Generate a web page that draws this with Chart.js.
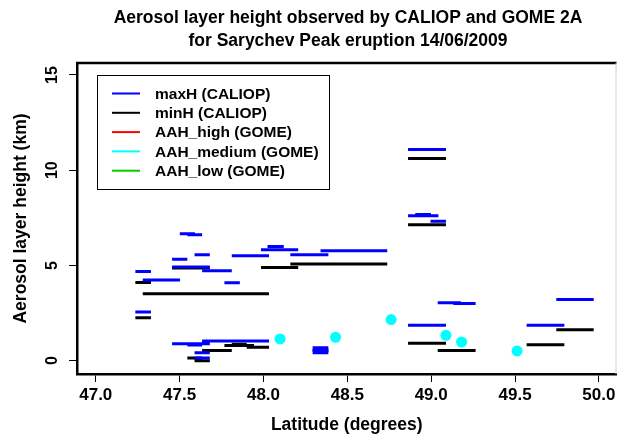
<!DOCTYPE html>
<html lang="en">
<head>
    <meta charset="UTF-8">
    <title>Aerosol layer height - Sarychev Peak</title>
    <script src="https://cdn.jsdelivr.net/npm/chart.js@4.4.1/dist/chart.umd.min.js"></script>
    <style>
        html, body { margin: 0; padding: 0; background: #fff; }
        #wrap { position: relative; width: 622px; height: 436px; }
    </style>
</head>
<body>
    <div id="wrap"><canvas id="chart"></canvas></div>

    <script>
        // CALIOP maxH segments (latitude start / end, height in km)
        const maxLatStart = [47.501, 47.546, 48.024, 47.985, 48.340, 47.589, 47.811, 48.160, 47.455, 47.455,
                             47.634, 47.236, 47.280, 47.767, 47.236, 48.862, 48.862, 48.905, 48.996, 49.039,
                             49.132, 48.862, 49.569, 49.746, 47.455, 47.546, 47.634, 47.589, 47.589, 48.293,
                             48.293, 48.293];
        const maxLatEnd   = [47.591, 47.634, 48.121, 48.207, 48.738, 47.680, 48.033, 48.387, 47.546, 47.680,
                             47.811, 47.329, 47.502, 47.859, 47.329, 49.088, 49.043, 48.999, 49.088, 49.177,
                             49.265, 49.088, 49.794, 49.969, 47.680, 47.634, 48.033, 47.680, 47.680, 48.387,
                             48.387, 48.387];
        const maxHeight   = [6.67, 6.61, 6.00, 5.83, 5.77, 5.56, 5.51, 5.56, 5.33, 4.92,
                             4.72, 4.68, 4.23, 4.09, 2.56, 11.09, 7.61, 7.67, 7.32, 3.04,
                             3.00, 1.86, 1.86, 3.21, 0.89, 0.82, 1.03, 0.41, 0.14, 0.68,
                             0.56, 0.42];

        // CALIOP minH segments
        const minLatStart = [47.236, 47.280, 47.455, 47.985, 48.160, 47.236, 48.862, 48.862, 48.862, 49.039,
                             49.569, 49.746, 47.767, 47.811, 47.900, 47.634, 47.546, 47.589, 48.293];
        const minLatEnd   = [47.329, 48.033, 47.680, 48.207, 48.738, 47.329, 49.088, 49.088, 49.088, 49.265,
                             49.794, 49.969, 47.944, 47.900, 48.033, 47.811, 47.634, 47.680, 48.387];
        const minHeight   = [4.10, 3.51, 4.87, 4.89, 5.07, 2.26, 10.61, 7.14, 0.91, 0.54,
                             0.84, 1.63, 0.79, 0.86, 0.70, 0.54, 0.14, 0.00, 0.54];

        // GOME-2A AAH medium points
        const gomeLat    = [48.099, 48.430, 48.761, 49.088, 49.181, 49.512];
        const gomeMedium = [1.14, 1.23, 2.16, 1.33, 0.98, 0.51];

        const xTicks = [47.0, 47.5, 48.0, 48.5, 49.0, 49.5, 50.0];
        const yTicks = [0, 5, 10, 15];

        const legendLabels = ['maxH (CALIOP)', 'minH (CALIOP)', 'AAH_high (GOME)', 'AAH_medium (GOME)', 'AAH_low (GOME)'];
        const legendColors = ['#0000ff', '#000000', '#ff0000', '#00ffff', '#00cd00'];

        const titleLines = ['Aerosol layer height observed by CALIOP and GOME 2A',
                            'for Sarychev Peak eruption 14/06/2009'];

        const FONT = "'Liberation Sans', Arial, sans-serif";

        // turn start/end/height lists into a broken line (null breaks the segment)
        function segments(starts, ends, heights) {
            const pts = [];
            starts.forEach((s, i) => {
                pts.push({ x: s, y: heights[i] });
                pts.push({ x: ends[i], y: heights[i] });
                pts.push({ x: ends[i], y: null });
            });
            return pts;
        }

        // title, legend box and the top/right frame
        const decorations = {
            id: 'decorations',
            afterDraw(chart) {
                const ctx = chart.ctx;
                const area = chart.chartArea;
                ctx.save();

                ctx.fillStyle = '#000';
                ctx.textAlign = 'center';
                ctx.textBaseline = 'middle';
                ctx.font = 'bold 17.5px ' + FONT;
                ctx.fillText(titleLines[0], 348, 18);
                ctx.fillText(titleLines[1], 348, 41);

                // frame top + right
                ctx.strokeStyle = '#000';
                ctx.lineWidth = 2.5;
                ctx.beginPath();
                ctx.moveTo(area.left - 1, area.top);
                ctx.lineTo(area.right, area.top);
                ctx.stroke();
                ctx.strokeStyle = '#d0d0d0';
                ctx.lineWidth = 1;
                ctx.beginPath();
                ctx.moveTo(area.right - 0.5, area.top);
                ctx.lineTo(area.right - 0.5, area.bottom);
                ctx.stroke();

                // legend
                ctx.strokeStyle = '#000';
                ctx.lineWidth = 1;
                ctx.fillStyle = '#fff';
                ctx.fillRect(97, 75, 233, 115);
                ctx.strokeRect(97.5, 75.5, 232, 114);
                ctx.font = 'bold 15.5px ' + FONT;
                ctx.textAlign = 'left';
                legendLabels.forEach((lab, i) => {
                    const y = 93.5 + i * 19.3;
                    ctx.strokeStyle = legendColors[i];
                    ctx.lineWidth = 2;
                    ctx.beginPath();
                    ctx.moveTo(112, y);
                    ctx.lineTo(140, y);
                    ctx.stroke();
                    ctx.fillStyle = '#000';
                    ctx.fillText(lab, 155, y + 1);
                });
                ctx.restore();
            }
        };

        const ctx = document.getElementById('chart').getContext('2d');
        new Chart(ctx, {
            type: 'line',
            data: {
                datasets: [
                    {
                        label: 'AAH_medium (GOME)',
                        data: gomeLat.map((x, i) => ({ x: x, y: gomeMedium[i] })),
                        showLine: false,
                        pointRadius: 5.5,
                        pointBackgroundColor: '#00ffff',
                        pointBorderColor: '#00ffff',
                        pointBorderWidth: 0,
                        order: 0
                    },
                    {
                        label: 'maxH (CALIOP)',
                        data: segments(maxLatStart, maxLatEnd, maxHeight),
                        borderColor: '#0000ff',
                        borderWidth: 3,
                        pointRadius: 0,
                        spanGaps: false,
                        order: 1
                    },
                    {
                        label: 'minH (CALIOP)',
                        data: segments(minLatStart, minLatEnd, minHeight),
                        borderColor: '#000000',
                        borderWidth: 3,
                        pointRadius: 0,
                        spanGaps: false,
                        order: 2
                    }
                ]
            },
            options: {
                responsive: true,
                maintainAspectRatio: false,
                animation: false,
                layout: { padding: { top: 63, right: 1, left: 0, bottom: 0 } },
                plugins: {
                    legend: { display: false },
                    tooltip: { enabled: false },
                    title: { display: false }
                },
                scales: {
                    x: {
                        type: 'linear',
                        min: 46.888,
                        max: 50.105,
                        afterBuildTicks: (scale) => { scale.ticks = xTicks.map(v => ({ value: v })); },
                        afterFit: (scale) => { scale.height = 62; },
                        grid: { drawOnChartArea: false, drawTicks: true, tickLength: 8, color: '#000', lineWidth: 1 },
                        border: { display: true, color: '#000', width: 2.5 },
                        ticks: {
                            padding: 3,
                            color: '#000',
                            font: { family: FONT, size: 17, weight: 'bold' },
                            callback: (v) => Number(v).toFixed(1)
                        },
                        title: {
                            display: true,
                            text: 'Latitude (degrees)',
                            color: '#000',
                            font: { family: FONT, size: 17.5, weight: 'bold' },
                            padding: { top: 0, bottom: 0 }
                        }
                    },
                    y: {
                        type: 'linear',
                        min: -0.7,
                        max: 15.63,
                        afterBuildTicks: (scale) => { scale.ticks = yTicks.map(v => ({ value: v })); },
                        afterFit: (scale) => { scale.width = 77; },
                        grid: { drawOnChartArea: false, drawTicks: true, tickLength: 8, color: '#000', lineWidth: 1 },
                        border: { display: true, color: '#000', width: 2.5 },
                        ticks: {
                            padding: 8,
                            color: '#000',
                            crossAlign: 'center',
                            minRotation: 90,
                            maxRotation: 90,
                            font: { family: FONT, size: 16, weight: 'bold' }
                        },
                        title: {
                            display: true,
                            text: 'Aerosol layer height (km)',
                            color: '#000',
                            font: { family: FONT, size: 17.5, weight: 'bold' },
                            padding: { top: 11, bottom: 0 }
                        }
                    }
                }
            },
            plugins: [decorations]
        });
    </script>
</body>
</html>
